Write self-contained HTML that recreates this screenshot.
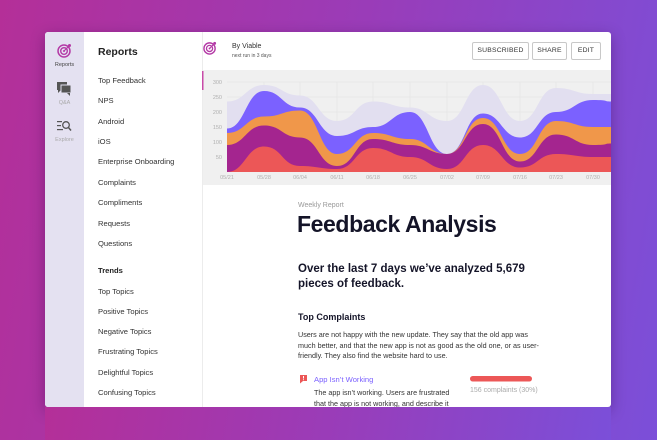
<!DOCTYPE html>
<html><head><style>
*{margin:0;padding:0;box-sizing:border-box}
body{width:657px;height:440px;overflow:hidden;background:linear-gradient(100deg,#b42f98 0%,#9a3cb8 50%,#7b4fd9 100%);font-family:"Liberation Sans",sans-serif;position:relative}
.win{position:absolute;left:45px;top:32px;width:566px;height:375px;background:#fff;border-radius:3px;overflow:hidden;box-shadow:0 4px 14px rgba(40,0,60,.35)}
.ic{position:absolute;left:0;top:0;width:39px;height:375px;background:#e4e1f1}
.nav{position:absolute;left:39px;top:0;width:119px;height:375px;border-right:1px solid #ececec}
.t{position:absolute;white-space:nowrap}
.nav .t{left:14px;font-size:7.6px;color:#333}
.btn{position:absolute;top:10px;height:18px;border:1px solid #c8c8c8;border-radius:2px;font-size:6.8px;color:#333;text-align:center;line-height:16px;letter-spacing:.2px}
</style></head><body>
<div class="win">
 <div class="ic">
  <svg style="position:absolute;left:12px;top:11px" width="15" height="15" viewBox="0 0 15 15"><circle cx="7" cy="8" r="6" fill="none" stroke="#b43aa6" stroke-width="1.5"/><circle cx="7" cy="8" r="3.3" fill="none" stroke="#b43aa6" stroke-width="1.4"/><circle cx="7" cy="8" r="1" fill="#b43aa6"/><line x1="7" y1="8" x2="12" y2="3" stroke="#b43aa6" stroke-width="1.2"/><circle cx="12.5" cy="2.5" r="1.5" fill="#b43aa6"/></svg>
  <div class="t" style="left:0;width:39px;text-align:center;top:30px;font-size:5.5px;color:#444">Reports</div>
  <svg style="position:absolute;left:12px;top:50px" width="15" height="14" viewBox="0 0 15 14"><rect x="0" y="0" width="10" height="8" fill="#555"/><path d="M1 8 L1 11 L4 8Z" fill="#555"/><rect x="4" y="3" width="10" height="8" fill="#555" stroke="#e4e1f1" stroke-width="1"/><path d="M13 11 L13 14 L10 11Z" fill="#555"/></svg>
  <div class="t" style="left:0;width:39px;text-align:center;top:68px;font-size:5.5px;color:#aaa">Q&amp;A</div>
  <svg style="position:absolute;left:12px;top:88px" width="15" height="12" viewBox="0 0 15 12"><rect x="0" y="1" width="5" height="1.2" fill="#555"/><rect x="0" y="5" width="4" height="1.2" fill="#555"/><rect x="0" y="9" width="6" height="1.2" fill="#555"/><circle cx="9" cy="5" r="3.3" fill="none" stroke="#555" stroke-width="1.3"/><line x1="11.3" y1="7.3" x2="14" y2="10.5" stroke="#555" stroke-width="1.5"/></svg>
  <div class="t" style="left:0;width:39px;text-align:center;top:105px;font-size:5.5px;color:#aaa">Explore</div>
 </div>
 <div class="nav">
  <div class="t" style="top:14px;font-size:10.5px;font-weight:bold;color:#222">Reports</div>
  <div class="t" style="top:44px">Top Feedback</div>
  <div class="t" style="top:64px">NPS</div>
  <div class="t" style="top:85px">Android</div>
  <div class="t" style="top:105px">iOS</div>
  <div class="t" style="top:125px">Enterprise Onboarding</div>
  <div class="t" style="top:146px">Complaints</div>
  <div class="t" style="top:166px">Compliments</div>
  <div class="t" style="top:187px">Requests</div>
  <div class="t" style="top:207px">Questions</div>
  <div class="t" style="top:234px;font-weight:bold;color:#222">Trends</div>
  <div class="t" style="top:255px">Top Topics</div>
  <div class="t" style="top:275px">Positive Topics</div>
  <div class="t" style="top:295px">Negative Topics</div>
  <div class="t" style="top:315px">Frustrating Topics</div>
  <div class="t" style="top:336px">Delightful Topics</div>
  <div class="t" style="top:356px">Confusing Topics</div>
 </div>
 <svg style="position:absolute;left:158px;top:9px" width="14" height="14" viewBox="0 0 15 15"><circle cx="7" cy="8" r="6" fill="none" stroke="#b43aa6" stroke-width="1.5"/><circle cx="7" cy="8" r="3.3" fill="none" stroke="#b43aa6" stroke-width="1.4"/><circle cx="7" cy="8" r="1" fill="#b43aa6"/><line x1="7" y1="8" x2="12" y2="3" stroke="#b43aa6" stroke-width="1.2"/><circle cx="12.5" cy="2.5" r="1.5" fill="#b43aa6"/></svg>
 <div class="t" style="left:187px;top:11px;font-size:7px;color:#333">By Viable</div>
 <div class="t" style="left:187px;top:21px;font-size:5px;color:#555">next run in 3 days</div>
 <div class="btn" style="left:427px;width:57px">SUBSCRIBED</div>
 <div class="btn" style="left:487px;width:35px">SHARE</div>
 <div class="btn" style="left:526px;width:30px">EDIT</div>
</div>
<svg style="position:absolute;left:0;top:0" width="657" height="440">
 <defs><clipPath id="c"><rect x="203" y="70" width="408" height="337"/></clipPath></defs>
 <g clip-path="url(#c)">
 <rect x="203" y="70" width="408" height="115" fill="#f0f0f0"/>
 <g stroke="#e2e2e2" stroke-width="0.6">
  <line x1="227" y1="82" x2="611" y2="82"/><line x1="227" y1="97" x2="611" y2="97"/><line x1="227" y1="112" x2="611" y2="112"/><line x1="227" y1="127" x2="611" y2="127"/><line x1="227" y1="142" x2="611" y2="142"/><line x1="227" y1="157" x2="611" y2="157"/>
  <line x1="264" y1="82" x2="264" y2="172"/><line x1="300" y1="82" x2="300" y2="172"/><line x1="337" y1="82" x2="337" y2="172"/><line x1="373" y1="82" x2="373" y2="172"/><line x1="410" y1="82" x2="410" y2="172"/><line x1="447" y1="82" x2="447" y2="172"/><line x1="483" y1="82" x2="483" y2="172"/><line x1="520" y1="82" x2="520" y2="172"/><line x1="556" y1="82" x2="556" y2="172"/><line x1="593" y1="82" x2="593" y2="172"/>
 </g>
 <path fill="#e2dff0" d="M227,101.5 C245,101.5 246,85 264,85 S282,95.5 300,95.5 S319,121 337,121 S355,101.5 373,101.5 S392,107.5 410,107.5 S429,121 447,121 S465,85 483,85 S502,121 520,121 S538,88 556,88 S575,94 593,94 S602,94 611,94 L611,172 L227,172Z"/>
 <path fill="#7b61ff" d="M227,128.5 C245,128.5 246,91 264,91 S282,107.5 300,107.5 S319,136 337,136 S355,127 373,127 S392,112 410,112 S429,154 447,154 S465,113.5 483,113.5 S502,137.5 520,137.5 S538,112 556,112 S575,100 593,100 S602,101.5 611,101.5 L611,172 L227,172Z"/>
 <path fill="#f0974a" d="M227,133 C245,133 246,116.5 264,116.5 S282,110.5 300,110.5 S319,154 337,154 S355,133 373,133 S392,139 410,139 S429,154 447,154 S465,118 483,118 S502,154 520,154 S538,121 556,121 S575,127 593,127 S602,127 611,127 L611,172 L227,172Z"/>
 <path fill="#a4258f" d="M227,145 C245,145 246,125.5 264,125.5 S282,137.5 300,137.5 S319,166 337,166 S355,139 373,139 S392,145 410,145 S429,154 447,154 S465,124 483,124 S502,161.5 520,161.5 S538,134.5 556,134.5 S575,145 593,145 S602,143.5 611,143.5 L611,172 L227,172Z"/>
 <path fill="#ec5757" d="M227,172 C245,172 246,146.5 264,146.5 S282,166 300,166 S319,169 337,169 S355,148 373,148 S392,157 410,157 S429,169 447,169 S465,145 483,145 S502,167.5 520,167.5 S538,154 556,154 S575,157 593,157 S602,157 611,157 L611,172 L227,172Z"/>
 <g font-family="Liberation Sans,sans-serif" font-size="5.5" fill="#b0b0b0" text-anchor="end">
  <text x="222" y="84">300</text><text x="222" y="99">250</text><text x="222" y="114">200</text><text x="222" y="129">150</text><text x="222" y="144">100</text><text x="222" y="159">50</text>
 </g>
 <g font-family="Liberation Sans,sans-serif" font-size="5.5" fill="#b0b0b0" text-anchor="middle">
  <text x="227" y="179">05/21</text><text x="264" y="179">05/28</text><text x="300" y="179">06/04</text><text x="337" y="179">06/11</text><text x="373" y="179">06/18</text><text x="410" y="179">06/25</text><text x="447" y="179">07/02</text><text x="483" y="179">07/09</text><text x="520" y="179">07/16</text><text x="556" y="179">07/23</text><text x="593" y="179">07/30</text>
 </g>
 </g>
 <rect x="202" y="71" width="1.5" height="19" fill="#c84aa8"/>
 <path d="M300,375 h7 v6 h-4 l-3,2.5Z" fill="#ec5757"/>
 <rect x="303" y="376" width="1" height="2.5" fill="#fff"/><rect x="303" y="379.3" width="1" height="0.9" fill="#fff"/>
 <rect x="470" y="376" width="62" height="5.5" rx="2.75" fill="#ec5757"/>
</svg>
<div class="t" style="left:298px;top:202px;font-size:7px;color:#999">Weekly Report</div>
<div class="t" style="left:297px;top:211px;font-size:23px;font-weight:bold;color:#141428;letter-spacing:-0.4px">Feedback Analysis</div>
<div class="t" style="left:298px;top:262px;font-size:11.5px;font-weight:bold;color:#141428;line-height:15px">Over the last 7 days we’ve analyzed 5,679<br>pieces of feedback.</div>
<div class="t" style="left:298px;top:312px;font-size:9px;font-weight:bold;color:#141428">Top Complaints</div>
<div class="t" style="left:298px;top:330px;font-size:7.2px;color:#333;line-height:10.5px">Users are not happy with the new update. They say that the old app was<br>much better, and that the new app is not as good as the old one, or as user-<br>friendly. They also find the website hard to use.</div>
<div class="t" style="left:314px;top:375px;font-size:7.6px;color:#7b61ff">App Isn’t Working</div>
<div class="t" style="left:470px;top:387px;font-size:7px;color:#aaa">156 complaints (30%)</div>
<div class="t" style="left:314px;top:388px;font-size:7.2px;color:#333;line-height:10.5px">The app isn’t working. Users are frustrated<br>that the app is not working, and describe it</div>
<div style="position:absolute;left:45px;top:407px;width:566px;height:33px;background:linear-gradient(100deg,#b42f98 0%,#9a3cb8 50%,#7b4fd9 100%)"></div>
</body></html>
